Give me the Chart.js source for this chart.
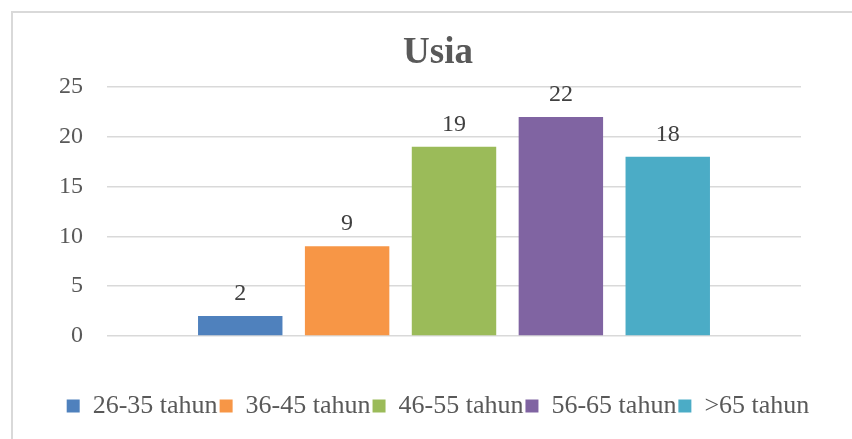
<!DOCTYPE html>
<html>
<head>
<meta charset="utf-8">
<script src="https://cdn.jsdelivr.net/npm/chart.js@4.4.0/dist/chart.umd.min.js"></script>
<style>
html, body { margin: 0; padding: 0; background: #fff; overflow: hidden; }
#frame { position: absolute; left: 11px; top: 11px; width: 900px; height: 500px;
         border-left: 2px solid #d9d9d9; border-top: 2px solid #d9d9d9; }
#usiaChart { position: absolute; left: 0; top: 0; }
</style>
</head>
<body>
<div id="frame"></div>
<canvas id="usiaChart" width="852" height="439"></canvas>
<script>
// age groups and counts
var categories = ["26-35 tahun", "36-45 tahun", "46-55 tahun", "56-65 tahun", ">65 tahun"];
var values = [2, 9, 19, 22, 18];
var yTicks = [0, 5, 10, 15, 20, 25];
var colors = ['#4f81bd', '#f79646', '#9bbb59', '#8064a2', '#4bacc6'];

var datasets = categories.map(function (name, i) {
    return {
        label: name,
        data: [values[i]],
        backgroundColor: colors[i],
        borderWidth: 0,
        categoryPercentage: 0.77,
        barPercentage: 0.79
    };
});

// value labels over each bar
var valueLabels = {
    id: 'valueLabels',
    afterDatasetsDraw: function (chart) {
        var ctx = chart.ctx;
        ctx.save();
        ctx.font = '24px "Liberation Serif"';
        ctx.fillStyle = '#404040';
        ctx.textAlign = 'center';
        ctx.textBaseline = 'alphabetic';
        chart.data.datasets.forEach(function (ds, i) {
            var bar = chart.getDatasetMeta(i).data[0];
            ctx.fillText(ds.data[0], bar.x, bar.y - 16);
        });
        ctx.restore();
    }
};

var ctx = document.getElementById("usiaChart");
var usiaChart = new Chart(ctx, {
    type: 'bar',
    data: {
        labels: [''],
        datasets: datasets
    },
    options: {
        responsive: false,
        animation: false,
        layout: { padding: { left: 59, right: 35, top: 0, bottom: 10 } },
        plugins: {
            title: {
                display: true,
                text: 'Usia',
                color: '#595959',
                font: { family: 'Liberation Serif', size: 37, weight: 'bold', lineHeight: 1 },
                padding: { top: 35, bottom: 15 }
            },
            legend: {
                position: 'bottom',
                labels: {
                    color: '#595959',
                    font: { family: 'Liberation Serif', size: 26 },
                    boxWidth: 13,
                    boxHeight: 13,
                    padding: 2
                }
            },
            tooltip: { enabled: false }
        },
        scales: {
            x: {
                ticks: { display: false },
                grid: { display: false },
                border: { display: false },
                afterFit: function (scale) { scale.height = 55; }
            },
            y: {
                min: 0,
                max: 25,
                afterBuildTicks: function (scale) {
                    scale.ticks = yTicks.map(function (v) { return { value: v }; });
                },
                ticks: {
                    color: '#595959',
                    font: { family: 'Liberation Serif', size: 24 },
                    padding: 24
                },
                grid: { color: '#d9d9d9', lineWidth: 1.5, drawTicks: false },
                border: { display: false },
                afterFit: function (scale) { scale.width = 48; }
            },
            // empty right-hand spacer so title and legend centre like the original
            y2: {
                position: 'right',
                ticks: { display: false },
                grid: { display: false },
                border: { display: false },
                afterFit: function (scale) { scale.width = 16; }
            }
        }
    },
    plugins: [valueLabels]
});
</script>
</body>
</html>
